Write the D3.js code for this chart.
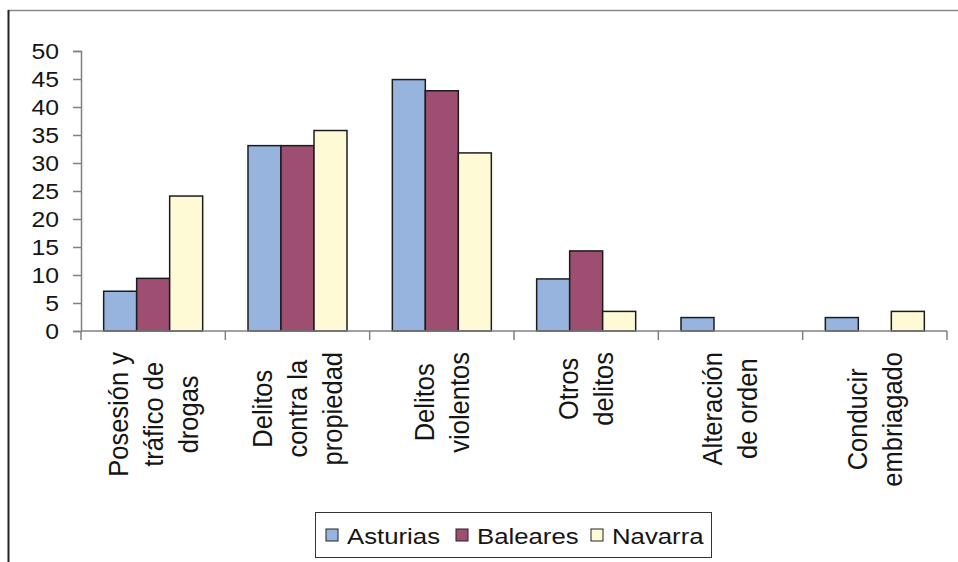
<!DOCTYPE html>
<html>
<head>
<meta charset="utf-8">
<script src="https://cdn.jsdelivr.net/npm/d3@7"></script>
<style>
  body { margin: 0; background: #fff; }
  text { font-family: "Liberation Sans", Arial, sans-serif; fill: #151515; }
</style>
</head>
<body>
<div id="chart"></div>
<script>
// Data
const categories = [
  ["Posesión y", "tráfico de", "drogas"],
  ["Delitos", "contra la", "propiedad"],
  ["Delitos", "violentos"],
  ["Otros", "delitos"],
  ["Alteración", "de orden"],
  ["Conducir", "embriagado"]
];
const series = ["Asturias", "Baleares", "Navarra"];
const asturias = [7.1, 33.1, 44.9, 9.3, 2.4, 2.4];
const baleares = [9.4, 33.1, 42.9, 14.3, 0, 0];
const navarra = [24.1, 35.8, 31.8, 3.5, 0, 3.5];
const yTicks = [0, 5, 10, 15, 20, 25, 30, 35, 40, 45, 50];
const colors = ["#96b4de", "#9e4f71", "#fffad6"];

const values = [asturias, baleares, navarra];
const width = 958, height = 562;
const stretch = 1.1; // glyphs in the picture are a little wider than tall

const svg = d3.select("#chart").append("svg")
  .attr("width", width)
  .attr("height", height);

// frame lines (top and left)
svg.append("line").attr("x1", 8).attr("x2", width).attr("y1", 10.5).attr("y2", 10.5)
  .attr("stroke", "#8a8a8a").attr("stroke-width", 1.5);
svg.append("line").attr("x1", 8.5).attr("x2", 8.5).attr("y1", 10).attr("y2", height)
  .attr("stroke", "#222").attr("stroke-width", 2);

const x0 = d3.scaleBand()
  .domain(d3.range(categories.length))
  .range([81, 947]);

const pad = x0.bandwidth() * 0.157;
const x1 = d3.scaleBand()
  .domain(series)
  .range([pad, x0.bandwidth() - pad]);

const y = d3.scaleLinear()
  .domain([0, 50])
  .range([331, 51]);

// bars
const groups = svg.append("g").selectAll("g")
  .data(categories.map((c, i) => i))
  .join("g")
  .attr("transform", i => `translate(${x0(i)},0)`);

groups.selectAll("rect")
  .data(i => series.map((s, k) => ({ s: s, k: k, v: values[k][i] })).filter(d => d.v > 0))
  .join("rect")
  .attr("x", d => x1(d.s))
  .attr("y", d => y(d.v))
  .attr("width", x1.bandwidth())
  .attr("height", d => y(0) - y(d.v))
  .attr("fill", d => colors[d.k])
  .attr("stroke", "#1c1c1c")
  .attr("stroke-width", 1.5);

// y axis
const yAxis = svg.append("g")
  .attr("transform", "translate(81,0)")
  .call(d3.axisLeft(y).tickValues(yTicks).tickSize(8).tickPadding(0).tickFormat(d3.format("d")));
yAxis.select(".domain").attr("stroke", "#808080").attr("stroke-width", 1.5);
yAxis.selectAll(".tick line").attr("stroke", "#808080").attr("stroke-width", 1.5);
yAxis.selectAll(".tick text")
  .attr("x", null)
  .attr("dy", null)
  .attr("text-anchor", "end")
  .attr("dominant-baseline", "central")
  .attr("font-size", 22.5)
  .attr("transform", `translate(-22,0) scale(${stretch},1)`);

// x axis line and ticks at band edges
const xAxis = svg.append("g");
xAxis.append("line")
  .attr("x1", 81).attr("x2", 947).attr("y1", y(0)).attr("y2", y(0))
  .attr("stroke", "#808080").attr("stroke-width", 1.5);
xAxis.selectAll(".xt")
  .data(d3.range(categories.length + 1))
  .join("line")
  .attr("class", "xt")
  .attr("x1", i => 81 + i * x0.step()).attr("x2", i => 81 + i * x0.step())
  .attr("y1", y(0)).attr("y2", y(0) + 9)
  .attr("stroke", "#808080").attr("stroke-width", 1.5);

// rotated category labels, block top-aligned under the axis
const labelTop = 352, lineGap = 35, labelSize = 25.5;
categories.forEach((lines, i) => {
  const cx = x0(i) + x0.bandwidth() / 2;
  const g = svg.append("g");
  const texts = lines.map((t, j) => {
    const off = (j - (lines.length - 1) / 2) * lineGap;
    return g.append("text")
      .attr("font-size", labelSize)
      .attr("text-anchor", "middle")
      .attr("dominant-baseline", "central")
      .text(t)
      .datum(off);
  });
  const maxLen = d3.max(texts, t => t.node().getComputedTextLength());
  texts.forEach(t => {
    t.attr("transform",
      `translate(${cx + t.datum()},${labelTop + maxLen / 2}) scale(${stretch},1) rotate(-90)`);
  });
});

// legend
const legend = svg.append("g");
legend.append("rect")
  .attr("x", 315.5).attr("y", 512.5).attr("width", 396).attr("height", 45)
  .attr("fill", "#fff").attr("stroke", "#333").attr("stroke-width", 1);
const legendX = [326, 456, 591];
series.forEach((s, k) => {
  legend.append("rect")
    .attr("x", legendX[k]).attr("y", 529).attr("width", 12).attr("height", 12)
    .attr("fill", colors[k]).attr("stroke", "#222").attr("stroke-width", 1);
  legend.append("text")
    .attr("transform", `translate(${legendX[k] + 21},536) scale(1.12,1)`)
    .attr("dominant-baseline", "central")
    .attr("font-size", 23)
    .text(s);
});
</script>
</body>
</html>
